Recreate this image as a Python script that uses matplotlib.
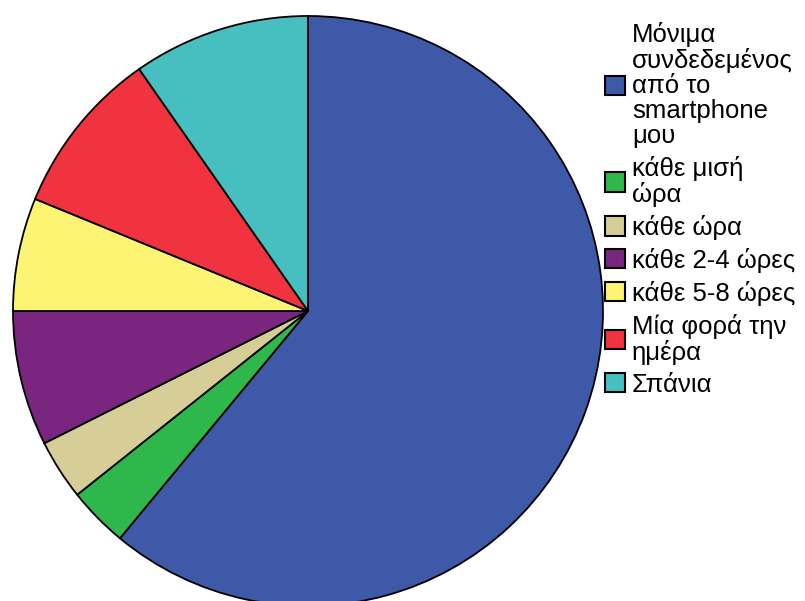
import matplotlib.pyplot as plt
from matplotlib.patches import Patch

plt.rcParams['font.family'] = ['Liberation Sans', 'DejaVu Sans']

# Data (approximate shares)
labels = ["Μόνιμα\nσυνδεδεμένος\nαπό το\nsmartphone\nμου",
          "κάθε μισή\nώρα",
          "κάθε ώρα",
          "κάθε 2-4 ώρες",
          "κάθε 5-8 ώρες",
          "Μία φορά την\nημέρα",
          "Σπάνια"]
values = [61.0, 3.3, 3.3, 7.4, 6.2, 9.1, 9.7]
colors = ["#3F59A9", "#2EB84B", "#D6CD97", "#7A2680", "#FDF473", "#F0333F", "#47BFC0"]

fig = plt.figure(figsize=(8.05, 6.01), dpi=100)

# pie is cut off at the bottom in the original
ax = fig.add_axes([13/805, -5/601, 590/805, 590/601])
wedges, _ = ax.pie(values, colors=colors, startangle=90, counterclock=False,
                   wedgeprops=dict(edgecolor='black', linewidth=1.3))
for w in wedges:
    w.set_clip_on(False)
ax.set_xlim(-1, 1)
ax.set_ylim(-1, 1)
ax.set_aspect('equal')

handles = [Patch(facecolor=c, edgecolor='black', linewidth=1.5) for c in colors]
leg = fig.legend(handles, labels, loc='upper left', bbox_to_anchor=(605/805, 1 - 22/601),
                 frameon=False, fontsize=18.5, handlelength=0.78, handleheight=0.78,
                 handletextpad=0.27, labelspacing=0.31, borderaxespad=0, borderpad=0)
for t in leg.get_texts():
    t.set_linespacing(1.05)

fig.savefig("out.png", dpi=100)
